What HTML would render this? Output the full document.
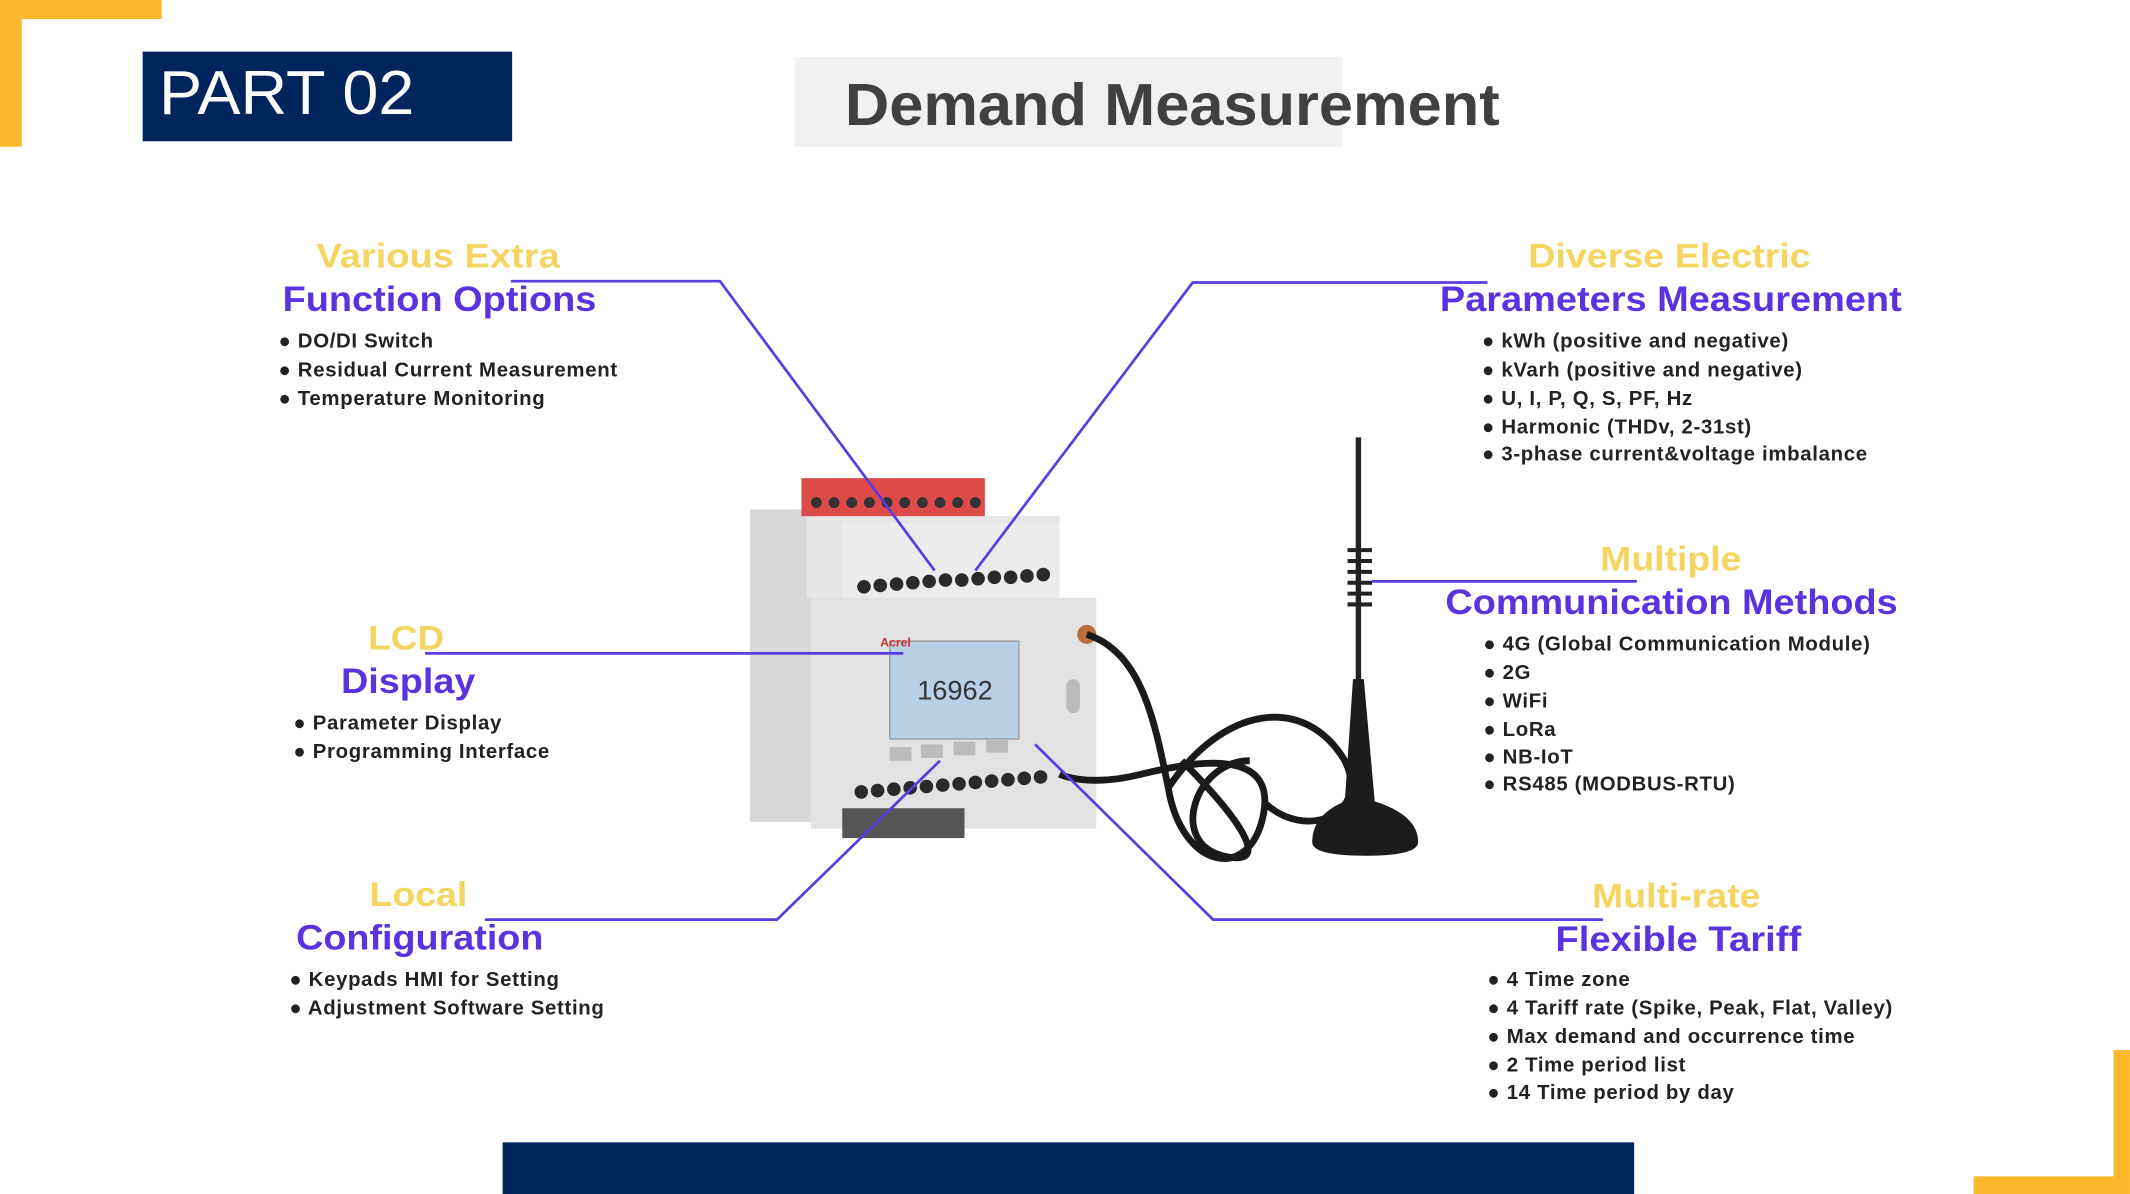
<!DOCTYPE html>
<html><head><meta charset="utf-8"><style>html,body{margin:0;padding:0;background:#fff}svg{display:block}</style></head>
<body>
<svg width="2130" height="1194" viewBox="0 0 1568 879" xmlns="http://www.w3.org/2000/svg" font-family="Liberation Sans, sans-serif">
<rect width="1568" height="879" fill="#fff"/>
<rect x="0" y="0" width="119" height="14" fill="#fdb92d"/>
<rect x="0" y="0" width="16" height="108" fill="#fdb92d"/>
<rect x="1556" y="773" width="12" height="106" fill="#fdb92d"/>
<rect x="1453" y="866" width="115" height="13" fill="#fdb92d"/>
<rect x="370" y="841" width="833" height="38" fill="#00245c"/>
<rect x="105" y="38" width="272" height="66" fill="#00245c"/>
<text x="117" y="84" font-size="46" fill="#fff" textLength="188" lengthAdjust="spacingAndGlyphs">PART 02</text>
<rect x="585" y="42" width="403" height="66" fill="#f1f1f1"/>
<text x="622" y="92" font-size="44" font-weight="bold" fill="#404040" textLength="482" lengthAdjust="spacingAndGlyphs">Demand Measurement</text>

<g>
<rect x="552" y="375" width="48" height="230" fill="#d8d8d8"/>
<rect x="594" y="380" width="186" height="60" fill="#e6e6e6"/>
<rect x="590" y="352" width="135" height="28" fill="#dd4a48"/>
<g fill="#333">
<circle cx="601" cy="370" r="4"/><circle cx="614" cy="370" r="4"/><circle cx="627" cy="370" r="4"/><circle cx="640" cy="370" r="4"/><circle cx="653" cy="370" r="4"/><circle cx="666" cy="370" r="4"/><circle cx="679" cy="370" r="4"/><circle cx="692" cy="370" r="4"/><circle cx="705" cy="370" r="4"/><circle cx="718" cy="370" r="4"/>
</g>
<rect x="597" y="440" width="210" height="170" fill="#e2e2e2"/>
<rect x="620" y="385" width="160" height="55" fill="#ececec"/>
<g fill="#2a2a2a">
<circle cx="636" cy="432" r="5"/><circle cx="648" cy="431" r="5"/><circle cx="660" cy="430" r="5"/><circle cx="672" cy="429" r="5"/><circle cx="684" cy="428" r="5"/><circle cx="696" cy="427" r="5"/><circle cx="708" cy="427" r="5"/><circle cx="720" cy="426" r="5"/><circle cx="732" cy="425" r="5"/><circle cx="744" cy="425" r="5"/><circle cx="756" cy="424" r="5"/><circle cx="768" cy="423" r="5"/>
<circle cx="634" cy="583" r="5"/><circle cx="646" cy="582" r="5"/><circle cx="658" cy="581" r="5"/><circle cx="670" cy="580" r="5"/><circle cx="682" cy="579" r="5"/><circle cx="694" cy="578" r="5"/><circle cx="706" cy="577" r="5"/><circle cx="718" cy="576" r="5"/><circle cx="730" cy="575" r="5"/><circle cx="742" cy="574" r="5"/><circle cx="754" cy="573" r="5"/><circle cx="766" cy="572" r="5"/>
</g>
<rect x="620" y="595" width="90" height="22" fill="#555"/>
<rect x="655" y="472" width="95" height="72" fill="#b9cfe6" stroke="#999"/>
<text x="703" y="515" font-size="20" fill="#333" text-anchor="middle">16962</text>
<text x="648" y="476" font-size="9" fill="#c33" font-weight="bold">Acrel</text>
<rect x="655" y="550" width="16" height="10" fill="#bbb"/><rect x="678" y="548" width="16" height="10" fill="#bbb"/><rect x="702" y="546" width="16" height="10" fill="#bbb"/><rect x="726" y="544" width="16" height="10" fill="#bbb"/>
<rect x="785" y="500" width="10" height="25" rx="5" fill="#bbb"/>
<circle cx="800" cy="467" r="7" fill="#b97040"/>
</g>
<g fill="none" stroke="#1a1a1a" stroke-width="5">
<path d="M800 467 C840 480 850 530 860 580 C870 640 920 650 930 600 C940 550 880 560 840 570 C800 580 780 570 780 570"/>
<path d="M860 580 C900 520 960 510 990 560 C1010 600 960 620 930 590"/>
<path d="M870 560 C910 600 940 640 900 630 C860 620 880 560 920 560"/>
</g>
<line x1="1000" y1="322" x2="1000" y2="600" stroke="#222" stroke-width="4"/>
<g stroke="#222" stroke-width="3"><line x1="992" y1="405" x2="1010" y2="405"/><line x1="992" y1="413" x2="1010" y2="413"/><line x1="992" y1="421" x2="1010" y2="421"/><line x1="992" y1="429" x2="1010" y2="429"/><line x1="992" y1="437" x2="1010" y2="437"/><line x1="992" y1="445" x2="1010" y2="445"/></g>
<path d="M996 500 L1004 500 L1012 590 Q1044 600 1044 620 Q1044 630 1005 630 Q966 630 966 620 Q966 600 990 590 Z" fill="#1c1c1c"/>

<g fill="none" stroke="#5a3de0" stroke-width="2">
<polyline points="376,207 530,207 688,420"/>
<polyline points="1095,208 878,208 718,420"/>
<polyline points="1010,428 1205,428"/>
<polyline points="313,481 665,481"/>
<polyline points="357,677 572,677 692,560"/>
<polyline points="762,548 893,677 1180,677"/>
</g>

<g font-weight="bold">
<g fill="#f5d560" font-size="25">
<text x="233" y="197" textLength="179" lengthAdjust="spacingAndGlyphs">Various Extra</text>
<text x="1125" y="197" textLength="208" lengthAdjust="spacingAndGlyphs">Diverse Electric</text>
<text x="1178" y="420" textLength="104" lengthAdjust="spacingAndGlyphs">Multiple</text>
<text x="271" y="478" textLength="56" lengthAdjust="spacingAndGlyphs">LCD</text>
<text x="272" y="667" textLength="72" lengthAdjust="spacingAndGlyphs">Local</text>
<text x="1172" y="668" textLength="124" lengthAdjust="spacingAndGlyphs">Multi-rate</text>
</g>
<g fill="#5a32e0" font-size="26">
<text x="208" y="229" textLength="231" lengthAdjust="spacingAndGlyphs">Function Options</text>
<text x="1060" y="229" textLength="340" lengthAdjust="spacingAndGlyphs">Parameters Measurement</text>
<text x="1064" y="452" textLength="333" lengthAdjust="spacingAndGlyphs">Communication Methods</text>
<text x="251" y="510" textLength="99" lengthAdjust="spacingAndGlyphs">Display</text>
<text x="218" y="699" textLength="182" lengthAdjust="spacingAndGlyphs">Configuration</text>
<text x="1145" y="700" textLength="181" lengthAdjust="spacingAndGlyphs">Flexible Tariff</text>
</g>
<g fill="#222" font-size="15" letter-spacing="0.5">
<text x="205" y="256">● DO/DI Switch</text>
<text x="205" y="277">● Residual Current Measurement</text>
<text x="205" y="298">● Temperature Monitoring</text>
<text x="1091" y="256">● kWh  (positive and negative)</text>
<text x="1091" y="277">● kVarh (positive and negative)</text>
<text x="1091" y="298">● U, I, P, Q, S, PF, Hz</text>
<text x="1091" y="319">● Harmonic (THDv, 2-31st)</text>
<text x="1091" y="339">● 3-phase current&amp;voltage imbalance</text>
<text x="1092" y="479">● 4G (Global Communication Module)</text>
<text x="1092" y="500">● 2G</text>
<text x="1092" y="521">● WiFi</text>
<text x="1092" y="542">● LoRa</text>
<text x="1092" y="562">● NB-IoT</text>
<text x="1092" y="582">● RS485 (MODBUS-RTU)</text>
<text x="216" y="537">● Parameter Display</text>
<text x="216" y="558">● Programming Interface</text>
<text x="213" y="726">● Keypads HMI for Setting</text>
<text x="213" y="747">● Adjustment Software Setting</text>
<text x="1095" y="726">● 4 Time zone</text>
<text x="1095" y="747">● 4 Tariff rate (Spike, Peak, Flat, Valley)</text>
<text x="1095" y="768">● Max demand and occurrence time</text>
<text x="1095" y="789">● 2 Time period list</text>
<text x="1095" y="809">● 14 Time period by day</text>
</g>
</g>
</svg>
</body></html>
